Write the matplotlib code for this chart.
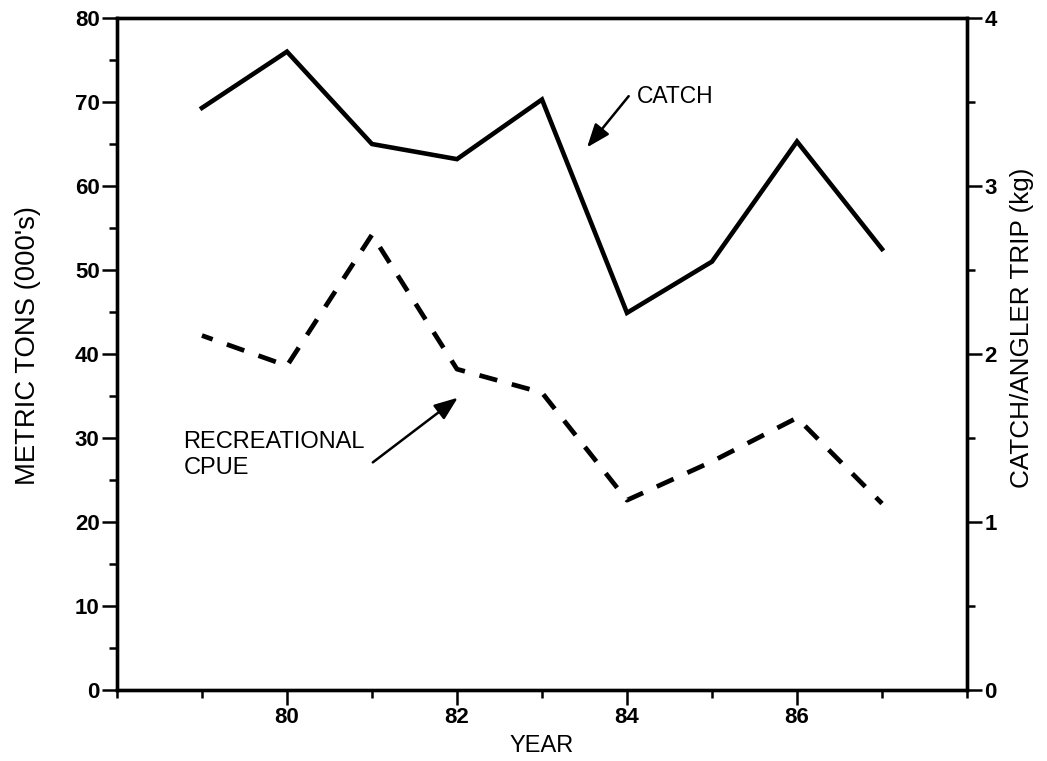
import matplotlib
matplotlib.use("Agg")
import matplotlib.pyplot as plt
from matplotlib.ticker import MultipleLocator, FixedLocator

plt.rcParams["font.family"] = ["Liberation Sans", "DejaVu Sans"]

# annual series
years = [79, 80, 81, 82, 83, 84, 85, 86, 87]
catch_kt = [69.3, 76.0, 65.0, 63.2, 70.3, 44.9, 51.0, 65.3, 52.5]
cpue_kg = [2.11, 1.93, 2.71, 1.91, 1.77, 1.13, 1.36, 1.62, 1.11]

year_ticks = [80, 82, 84, 86]

fig = plt.figure(figsize=(10.47, 7.61), dpi=100)
ax = fig.add_axes([0.1117, 0.0933, 0.8119, 0.883])
ax2 = ax.twinx()

ax.plot(years, catch_kt, color="black", lw=3.3, solid_joinstyle="miter")
ax2.plot(years, cpue_kg, color="black", lw=3.4,
         linestyle=(1.5, (3.9, 3.2)), dash_capstyle="butt")

ax.set_xlim(78, 88)
ax.set_ylim(0, 80)
ax2.set_ylim(0, 4)

ax.xaxis.set_major_locator(FixedLocator(year_ticks))
ax.xaxis.set_minor_locator(MultipleLocator(1))
ax.yaxis.set_major_locator(MultipleLocator(10))
ax.yaxis.set_minor_locator(MultipleLocator(5))
ax2.yaxis.set_major_locator(MultipleLocator(1))
ax2.yaxis.set_minor_locator(MultipleLocator(0.5))

for a in (ax, ax2):
    for s in a.spines.values():
        s.set_linewidth(2.4)
    a.tick_params(which="major", direction="out", length=10.5, width=1.8,
                  labelsize=16, pad=2)
    a.tick_params(which="minor", direction="out", length=6, width=1.8)
    for lab in a.get_xticklabels() + a.get_yticklabels():
        lab.set_fontweight("bold")

ax.set_xlabel("YEAR", fontsize=17, labelpad=5)
ax.set_ylabel("METRIC TONS (000's)", fontsize=19.8)
ax2.set_ylabel("CATCH/ANGLER TRIP (kg)", fontsize=18.8, rotation=90)
ax.yaxis.set_label_coords(-0.089, 0.512)
ax2.yaxis.set_label_coords(1.05, 0.539)

arrow = dict(arrowstyle="-|>,head_length=0.65,head_width=0.25",
             color="black", lw=1.8, mutation_scale=22, shrinkA=0, shrinkB=0)

ax.text(84.12, 70.6, "CATCH", fontsize=16.5, va="center", ha="left")
ax.annotate("", xy=(83.53, 64.6), xytext=(84.02, 70.7), arrowprops=arrow)
ax.text(78.78, 29.5, "RECREATIONAL", fontsize=17, va="center", ha="left")
ax.text(78.78, 26.4, "CPUE", fontsize=17, va="center", ha="left")
ax.annotate("", xy=(82.01, 34.8), xytext=(81.01, 27.1), arrowprops=arrow)

fig.savefig("out.png", dpi=100)
